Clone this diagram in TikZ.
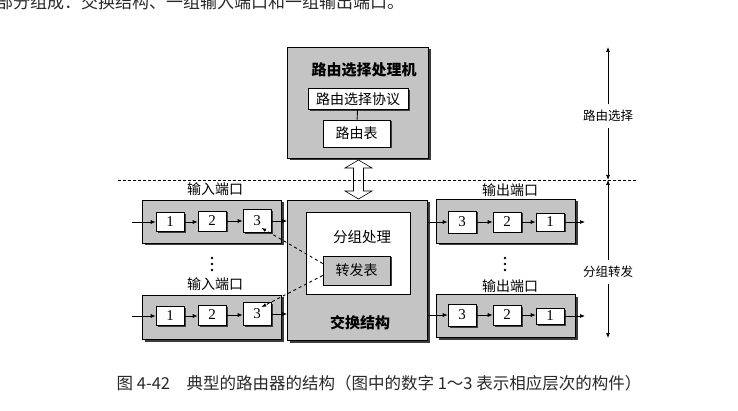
\documentclass[tikz,border=0pt]{standalone}
\usepackage{fontspec}
\setmainfont{Liberation Serif}
\newfontfamily\cjk{Noto Sans CJK SC}
\usetikzlibrary{arrows.meta,positioning,shadows}
\definecolor{pGray}{RGB}{196,196,196}
\definecolor{pShadow}{RGB}{60,60,60}
\definecolor{pText}{RGB}{40,40,40}

\begin{document}
\begin{tikzpicture}[x=1pt,y=-1pt,
			graybox/.style={
				draw=black,
				fill=pGray,
				line width=0.6pt,
				inner sep=0pt,
				drop shadow={shadow xshift=2.5pt,shadow yshift=-2.5pt,fill=pShadow,opacity=1}
			},
			whitebox/.style={
				draw=black,
				fill=white,
				line width=0.6pt,
				inner sep=0pt,
				font=\cjk\fontsize{14}{16}\selectfont,
				drop shadow={shadow xshift=1.5pt,shadow yshift=-1.5pt,fill=pShadow,opacity=1}
			},
			numbox/.style={
				whitebox,
				minimum width=28pt,
				font=\fontsize{15}{16}\selectfont
			},
			lbl/.style={font=\cjk\fontsize{14}{16}\selectfont},
			sidelbl/.style={font=\cjk\fontsize{12.5}{14}\selectfont,fill=white,inner ysep=6pt},
			boldlbl/.style={font=\cjk\bfseries\fontsize{15}{17}\selectfont},
			flow/.style={-{Latex[length=5pt,width=4pt]},line width=0.7pt}
			]
			\useasboundingbox (0,0) rectangle (738,411);
			% text cut off at the top of the page
			\node[anchor=west,text=pText,font=\cjk\fontsize{17}{19}\selectfont,inner sep=0pt] (topline) at (-4,2)
				{部分组成：交换结构、一组输入端口和一组输出端口。};

			% routing processor
			\node[graybox,minimum width=141pt,minimum height=111pt] (rp) at (357.5,102.5) {};
			\node[boldlbl] (rptitle) at (364,70) {路由选择处理机};
			\node[whitebox,minimum width=100pt,minimum height=21pt] (proto) at (358,99) {路由选择协议};
			\node[whitebox,minimum width=67pt,minimum height=27pt] (rtable) at (356.5,133.5) {路由表};
			\draw[line width=0.9pt] (proto) -- (rtable);

			% switch fabric
			\node[graybox,minimum width=140pt,minimum height=140pt] (fabric) at (357.5,270) {};
			\node[draw=black,fill=white,line width=0.6pt,minimum width=104pt,minimum height=82pt] (pktproc) at (358,253) {};
			\node[lbl,font=\cjk\fontsize{14.5}{16}\selectfont] (pkttitle) at (362,237) {分组处理};
			\node[whitebox,fill=pGray,minimum width=67pt,minimum height=29pt] (fwd) at (356.5,270.5) {转发表};
			\node[boldlbl] (fabtitle) at (360,323) {交换结构};

			% double arrow between the two planes
			\draw[fill=white,line width=0.6pt,line join=miter] (358.5,160) -- (372,168) -- (363.5,168) -- (363.5,191)
				-- (372,191) -- (358.5,199) -- (345,191) -- (353.5,191) -- (353.5,168) -- (345,168) -- cycle;

			% input ports
			\node[graybox,minimum width=139pt,minimum height=43pt] (inA) at (211.5,221.5) {};
			\node[numbox,minimum height=19pt] (inA1) at (170,222) {1};
			\node[numbox,minimum height=20pt] (inA2) at (212,221) {2};
			\node[numbox,minimum height=23pt] (inA3) at (257,221) {3};
			\node[lbl] (inAlbl) at (215,189) {输入端口};
			\node[graybox,minimum width=139pt,minimum height=44pt] (inB) at (211.5,317) {};
			\node[numbox,minimum height=19pt] (inB1) at (170,316) {1};
			\node[numbox,minimum height=20pt] (inB2) at (212,315) {2};
			\node[numbox,minimum height=23pt] (inB3) at (257,314) {3};
			\node[lbl] (inBlbl) at (215,284) {输入端口};
			\coordinate (inAsrc) at (132,222);
			\coordinate (inBsrc) at (132,316);

			% output ports
			\node[graybox,minimum width=139pt,minimum height=44pt] (outA) at (506,221) {};
			\node[numbox,minimum height=22pt] (outA3) at (462,222) {3};
			\node[numbox,minimum height=20pt] (outA2) at (507,222) {2};
			\node[numbox,minimum height=18pt] (outA1) at (550,222) {1};
			\node[lbl] (outAlbl) at (510,190) {输出端口};
			\node[graybox,minimum width=139pt,minimum height=43pt] (outB) at (506,316) {};
			\node[numbox,minimum height=22pt] (outB3) at (462,315) {3};
			\node[numbox,minimum height=20pt] (outB2) at (507,315) {2};
			\node[numbox,minimum height=16pt] (outB1) at (550,316) {1};
			\node[lbl] (outBlbl) at (510,286) {输出端口};
			\coordinate (outAdst) at (585,222);
			\coordinate (outBdst) at (585,316);

			% dots between the ports
			\foreach \dy in {258,264,270} {
				\fill (212,\dy) circle (1.3pt);
				\fill (505,\dy) circle (1.3pt);
			}

			% packet flow
			\draw[flow] (inAsrc) -- (inA1.west |- inAsrc);
			\draw[flow] (inA1) -- (inA2.west |- inA1);
			\draw[flow] (inA2) -- (inA3.west |- inA2);
			\draw[flow] (inA3) -- (fabric.west |- inA3);
			\draw[flow] (inBsrc) -- (inB1.west |- inBsrc);
			\draw[flow] (inB1) -- (inB2.west |- inB1);
			\draw[flow] (inB2) -- (inB3.west |- inB2);
			\draw[flow] (inB3) -- (fabric.west |- inB3);
			\draw[flow] (fabric.east |- outA3) -- (outA3);
			\draw[flow] (outA3) -- (outA2.west |- outA3);
			\draw[flow] (outA2) -- (outA1.west |- outA2);
			\draw[flow] (outA1) -- (outAdst);
			\draw[flow] (fabric.east |- outB3) -- (outB3);
			\draw[flow] (outB3) -- (outB2.west |- outB3);
			\draw[flow] (outB2) -- (outB1.west |- outB2);
			\draw[flow] (outB1) -- (outBdst);

			% forwarding table lookups
			\draw[dashed,line width=0.9pt,-{Latex[length=5pt,width=3.5pt]}] ([yshift=7pt]fwd.west) -- ([xshift=-10pt,yshift=5pt]inA3.south east);
			\draw[dashed,line width=0.9pt,-{Latex[length=5pt,width=3.5pt]}] ([yshift=-5pt]fwd.west) -- ([xshift=-10pt,yshift=-5pt]inB3.north east);

			% plane divider
			\coordinate (divL) at (118,180);
			\coordinate (divR) at (636,180);
			\draw[dashed,line width=0.8pt,dash pattern=on 3pt off 2pt] (divL) -- (divR);

			% plane labels on the right
			\coordinate (sideTop) at (608,47);
			\coordinate (sideMid) at (608,180);
			\coordinate (sideBot) at (608,338);
			\node[sidelbl] (routeLbl) at (608,116) {路由选择};
			\node[sidelbl] (fwdLbl) at (608,272) {分组转发};
			\draw[flow] (routeLbl) -- (sideTop);
			\draw[flow] (routeLbl) -- (sideMid);
			\draw[flow] (fwdLbl) -- (sideMid);
			\draw[flow] (fwdLbl) -- (sideBot);

			% caption
			\node[font=\cjk\fontsize{16.5}{19}\selectfont,text=pText] (caption) at (379,383)
				{图 4-42\quad 典型的路由器的结构（图中的数字 1～3 表示相应层次的构件）};
		\end{tikzpicture}
\end{document}
